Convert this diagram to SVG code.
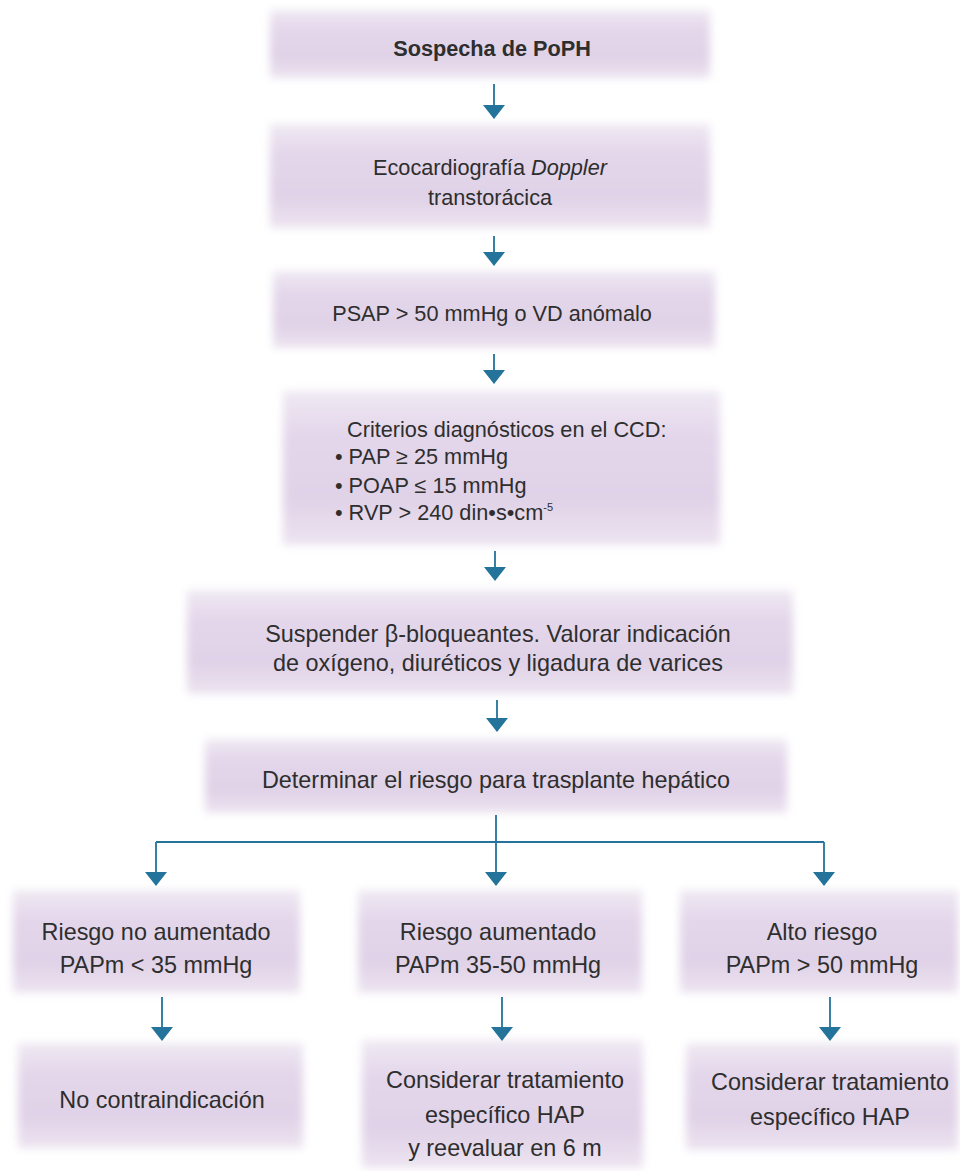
<svg xmlns="http://www.w3.org/2000/svg" width="960" height="1171" viewBox="0 0 960 1171">
  <style>
    .box { fill: url(#boxFill); filter: url(#soft); }
    .t { font-family: "Liberation Sans", Arial, sans-serif; font-size: 21.7px; fill: #2e2e2e; text-anchor: middle; }
    .tl { font-size: 23.4px; }
    .b { font-weight: bold; }
    .lft { text-anchor: start; }
    .conn { stroke: #23739a; stroke-width: 1.8; fill: none; }
    .arr { marker-end: url(#head); }
  </style>
  <defs>
    <linearGradient id="boxFill" x1="0" y1="0" x2="0" y2="1">
      <stop offset="0" stop-color="#efe9f3"/>
      <stop offset="0.3" stop-color="#e3d6ea"/>
      <stop offset="0.7" stop-color="#e0d2e7"/>
      <stop offset="1" stop-color="#ece4f0"/>
    </linearGradient>
    <filter id="soft" x="-5%" y="-10%" width="110%" height="120%">
      <feGaussianBlur stdDeviation="4"/>
    </filter>
    <marker id="head" markerUnits="userSpaceOnUse" markerWidth="16" markerHeight="24" refX="13" refY="11" orient="auto" overflow="visible">
      <path d="M0,0 L14,11 L0,22 Z" fill="#23739a"/>
    </marker>
  </defs>

  <!-- flow nodes -->
  <g id="n1">
    <rect class="box" x="270" y="10" width="440" height="68"/>
    <text class="t b" x="492" y="56">Sospecha de PoPH</text>
  </g>
  <g id="n2">
    <rect class="box" x="270" y="124" width="440" height="104"/>
    <text class="t" x="490" y="175">Ecocardiografía <tspan font-style="italic">Doppler</tspan></text>
    <text class="t" x="490" y="205">transtorácica</text>
  </g>
  <g id="n3">
    <rect class="box" x="273" y="271" width="442" height="77"/>
    <text class="t" x="492" y="321">PSAP &gt; 50 mmHg o VD anómalo</text>
  </g>
  <g id="n4">
    <rect class="box" x="283" y="391" width="437" height="154"/>
    <text class="t lft" x="347" y="437" fill="#4d4d4d">Criterios diagnósticos en el CCD:</text>
    <text class="t lft" x="335" y="464" fill="#222">• PAP ≥ 25 mmHg</text>
    <text class="t lft" x="335" y="493" fill="#222">• POAP ≤ 15 mmHg</text>
    <text class="t lft" x="335" y="520" fill="#6e6e6e">• RVP &gt; 240 din•s•cm<tspan font-size="11" dy="-9">-5</tspan></text>
  </g>
  <g id="n5">
    <rect class="box" x="187" y="590" width="606" height="104"/>
    <text class="t tl" x="498" y="642">Suspender β-bloqueantes. Valorar indicación</text>
    <text class="t tl" x="498" y="671">de oxígeno, diuréticos y ligadura de varices</text>
  </g>
  <g id="n6">
    <rect class="box" x="205" y="739" width="582" height="74"/>
    <text class="t tl" x="496" y="788">Determinar el riesgo para trasplante hepático</text>
  </g>
  <g id="n7">
    <rect class="box" x="13" y="890" width="287" height="103"/>
    <text class="t tl" x="156" y="940">Riesgo no aumentado</text>
    <text class="t tl" x="156" y="973">PAPm &lt; 35 mmHg</text>
  </g>
  <g id="n8">
    <rect class="box" x="358" y="890" width="284" height="103"/>
    <text class="t tl" x="498" y="940">Riesgo aumentado</text>
    <text class="t tl" x="498" y="973">PAPm 35-50 mmHg</text>
  </g>
  <g id="n9">
    <rect class="box" x="680" y="890" width="278" height="103"/>
    <text class="t tl" x="822" y="940">Alto riesgo</text>
    <text class="t tl" x="822" y="973">PAPm &gt; 50 mmHg</text>
  </g>
  <g id="n10">
    <rect class="box" x="18" y="1043" width="285" height="105"/>
    <text class="t tl" x="162" y="1108">No contraindicación</text>
  </g>
  <g id="n11">
    <rect class="box" x="362" y="1040" width="281" height="128"/>
    <text class="t tl" x="505" y="1088">Considerar tratamiento</text>
    <text class="t tl" x="505" y="1123">específico HAP</text>
    <text class="t tl" x="505" y="1156">y reevaluar en 6 m</text>
  </g>
  <g id="n12">
    <rect class="box" x="686" y="1043" width="272" height="107"/>
    <text class="t tl" x="830" y="1090">Considerar tratamiento</text>
    <text class="t tl" x="830" y="1125">específico HAP</text>
  </g>

  <!-- connectors -->
  <g id="connectors">
    <line class="conn arr" x1="494" y1="84" x2="494" y2="118"/>
    <line class="conn arr" x1="494" y1="236" x2="494" y2="265"/>
    <line class="conn arr" x1="494" y1="354" x2="494" y2="383"/>
    <line class="conn arr" x1="495" y1="551" x2="495" y2="580"/>
    <line class="conn arr" x1="497" y1="700" x2="497" y2="731"/>
    <polyline class="conn" points="496,815 496,842"/>
    <polyline class="conn" points="156,842 824,842"/>
    <line class="conn arr" x1="156" y1="842" x2="156" y2="885"/>
    <line class="conn arr" x1="496" y1="842" x2="496" y2="885"/>
    <line class="conn arr" x1="824" y1="842" x2="824" y2="885"/>
    <line class="conn arr" x1="162" y1="997" x2="162" y2="1040"/>
    <line class="conn arr" x1="502" y1="997" x2="502" y2="1040"/>
    <line class="conn arr" x1="830" y1="997" x2="830" y2="1040"/>
  </g>
</svg>
